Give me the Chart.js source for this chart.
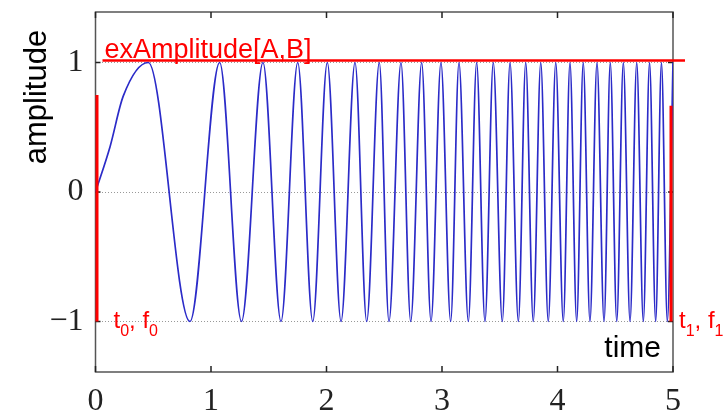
<!DOCTYPE html>
<html>
<head>
<meta charset="utf-8">
<script src="https://cdn.jsdelivr.net/npm/chart.js@4.4.0/dist/chart.umd.min.js"></script>
<style>
  html, body { margin: 0; padding: 0; background: #fff; }
  #wrap { width: 723px; height: 417px; }
</style>
</head>
<body>
<div id="wrap"><canvas id="chirpChart" width="723" height="417"></canvas></div>
<script>
// start of the chirp (rising from 0 to the first peak)
const startTimes = [0, 0.126, 0.24];
const startValues = [0, 0.35, 0.74];
// times of the maxima (+1) and minima (-1)
const peakTimes = [0.457, 1.075, 1.450, 1.751, 2.007, 2.247, 2.457, 2.645, 2.824, 2.991,
  3.147, 3.300, 3.444, 3.589, 3.725, 3.855, 3.985, 4.108, 4.223, 4.342,
  4.457, 4.570, 4.686, 4.797, 4.900, 5.000];
const troughTimes = [0.818, 1.264, 1.606, 1.881, 2.126, 2.348, 2.541, 2.729, 2.905, 3.075,
  3.228, 3.372, 3.522, 3.661, 3.790, 3.920, 4.050, 4.166, 4.281, 4.403,
  4.513, 4.628, 4.743, 4.850, 4.951];
const xTicks = [0, 1, 2, 3, 4, 5];
const yTicks = [-1, 0, 1];

const points = [];
startTimes.forEach((t, i) => points.push({x: t, y: startValues[i]}));
peakTimes.forEach(t => points.push({x: t, y: 1}));
troughTimes.forEach(t => points.push({x: t, y: -1}));
points.sort((a, b) => a.x - b.x);

// frame, inner tick marks and the red annotations
const decorations = {
  id: 'decorations',
  beforeDatasetsDraw(chart) {
    const {ctx, chartArea: a, scales: {x, y}} = chart;
    ctx.save();
    ctx.strokeStyle = '#555';
    ctx.lineWidth = 1.5;
    ctx.strokeRect(a.left, a.top, a.right - a.left, a.bottom - a.top);
    ctx.strokeStyle = '#222';
    ctx.beginPath();
    xTicks.forEach(v => {
      const px = x.getPixelForValue(v);
      ctx.moveTo(px, a.bottom); ctx.lineTo(px, a.bottom - 6);
      ctx.moveTo(px, a.top); ctx.lineTo(px, a.top + 6);
    });
    yTicks.forEach(v => {
      const py = y.getPixelForValue(v);
      ctx.moveTo(a.left, py); ctx.lineTo(a.left + 5, py);
      ctx.moveTo(a.right, py); ctx.lineTo(a.right - 5, py);
    });
    ctx.stroke();
    ctx.restore();
  },
  afterDatasetsDraw(chart) {
    const {ctx, chartArea: a, scales: {x, y}} = chart;
    ctx.save();
    ctx.strokeStyle = '#ff0000';
    ctx.fillStyle = '#ff0000';
    // amplitude bound
    ctx.lineWidth = 2.5;
    ctx.beginPath();
    ctx.moveTo(a.left + 7, y.getPixelForValue(1) - 2);
    ctx.lineTo(a.right + 12, y.getPixelForValue(1) - 2);
    ctx.stroke();
    // start / end markers
    ctx.lineWidth = 3;
    ctx.beginPath();
    ctx.moveTo(x.getPixelForValue(0) + 1.5, y.getPixelForValue(0.75));
    ctx.lineTo(x.getPixelForValue(0) + 1.5, y.getPixelForValue(-1));
    ctx.moveTo(x.getPixelForValue(5) - 2, y.getPixelForValue(0.667));
    ctx.lineTo(x.getPixelForValue(5) - 2, y.getPixelForValue(-1));
    ctx.stroke();

    ctx.textBaseline = 'alphabetic';
    ctx.textAlign = 'left';
    ctx.font = '27px "Liberation Sans", Arial, sans-serif';
    ctx.fillText('exAmplitude[A,B]', a.left + 9, y.getPixelForValue(1) - 5);

    const subLabel = (px, py, parts) => {
      let cx = px;
      parts.forEach(([txt, sub]) => {
        ctx.font = sub ? '16px "Liberation Sans", Arial, sans-serif' : '24px "Liberation Sans", Arial, sans-serif';
        ctx.fillText(txt, cx, sub ? py + 8 : py);
        cx += ctx.measureText(txt).width;
      });
    };
    const baseY = y.getPixelForValue(-1) + 7;
    subLabel(a.left + 18, baseY, [['t', false], ['0', true], [', f', false], ['0', true]]);
    subLabel(a.right + 6, baseY, [['t', false], ['1', true], [', f', false], ['1', true]]);

    // axis names
    ctx.fillStyle = '#000';
    ctx.font = '30px "Liberation Sans", Arial, sans-serif';
    ctx.textAlign = 'right';
    ctx.fillText('time', a.right - 12, a.bottom - 15);
    ctx.font = '31px "Liberation Sans", Arial, sans-serif';
    ctx.translate(37, 97);
    ctx.rotate(-Math.PI / 2);
    ctx.textAlign = 'center';
    ctx.textBaseline = 'middle';
    ctx.fillText('amplitude', 0, 0);
    ctx.restore();
  }
};

const ctx = document.getElementById('chirpChart').getContext('2d');
new Chart(ctx, {
  type: 'line',
  data: {
    datasets: [{
      data: points,
      borderColor: '#2b2bc8',
      borderWidth: 1.7,
      pointRadius: 0,
      cubicInterpolationMode: 'monotone',
      fill: false
    }]
  },
  options: {
    responsive: false,
    animation: false,
    devicePixelRatio: 1,
    layout: { padding: { top: 12, right: 50, left: 0, bottom: 0 } },
    plugins: { legend: { display: false }, tooltip: { enabled: false } },
    scales: {
      x: {
        type: 'linear',
        min: 0,
        max: 5,
        afterBuildTicks: s => { s.ticks = xTicks.map(v => ({value: v})); },
        afterFit: s => { s.height = 45; s.paddingLeft = 0; s.paddingRight = 0; },
        grid: { display: false, drawTicks: false },
        border: { display: false },
        ticks: {
          color: '#222',
          padding: 10,
          maxRotation: 0,
          font: { family: '"Liberation Serif", "DejaVu Serif", serif', size: 32 }
        }
      },
      y: {
        min: -1.39,
        max: 1.39,
        afterBuildTicks: s => { s.ticks = yTicks.map(v => ({value: v})); },
        afterFit: s => { s.width = 95.5; s.paddingTop = 0; s.paddingBottom = 0; },
        grid: { color: '#999', lineWidth: 1, drawTicks: false },
        border: { display: false, dash: [1, 2] },
        ticks: {
          color: '#222',
          padding: 12,
          font: { family: '"Liberation Serif", "DejaVu Serif", serif', size: 32 },
          callback: v => v < 0 ? '\u2212' + Math.abs(v) : String(v)
        }
      }
    }
  },
  plugins: [decorations]
});
</script>
</body>
</html>
